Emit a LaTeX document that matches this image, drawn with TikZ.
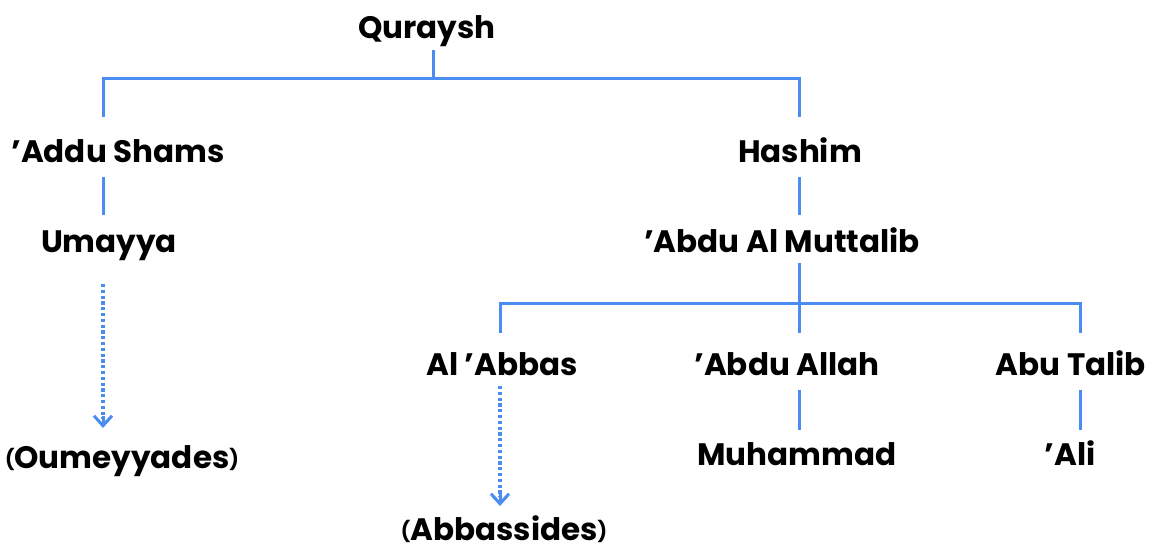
\documentclass[tikz,border=0pt]{standalone}
\usepackage{fontspec}
\setmainfont{Poppins}
\usetikzlibrary{arrows.meta,calc}
\definecolor{linkblue}{RGB}{74,140,240}
\newcommand{\smp}[1]{\raisebox{1.5pt}{\fontsize{20}{22}\selectfont #1}}
\begin{document}
\begin{tikzpicture}[x=1pt,y=-1pt,
  person/.style={font=\fontsize{31}{34}\selectfont\bfseries, anchor=base, inner sep=0pt},
  link/.style={draw=linkblue, line width=3pt},
  dotlink/.style={draw=linkblue, line width=3.6pt, dash pattern=on 3.2pt off 2.6pt},
  tiplink/.style={draw=linkblue, line width=3pt, -{Straight Barb[length=10pt,width=18pt]}}]
\useasboundingbox (0,0) rectangle (1152,549);
% names
\node[person] (quraysh) at (427,38) {Quraysh};
\node[person] (addu) at (118,162) {’Addu Shams};
\node[person] (hashim) at (800,162) {Hashim};
\node[person] (umayya) at (109,252) {Umayya};
\node[person] (muttalib) at (782,252) {’Abdu Al Muttalib};
\node[person] (abbas) at (502,375) {Al ’Abbas};
\node[person] (allah) at (787,375) {’Abdu Allah};
\node[person] (talib) at (1071,375) {Abu Talib};
\node[person] (muhammad) at (797,465) {Muhammad};
\node[person] (ali) at (1070,465) {’Ali};
\node[person] (oum) at (122,468) {\smp{(}Oumeyyades\smp{)}};
\node[person] (abb) at (504,540) {\smp{(}Abbassides\smp{)}};
% junction coordinates
\coordinate (q1) at (433,50);
\coordinate (q2) at (433,78);
\coordinate (qL) at (103,78);
\coordinate (qR) at (799,78);
\coordinate (aT) at (103,117);
\coordinate (hT) at (799,117);
\coordinate (a1) at (103,177);
\coordinate (uT) at (103,215);
\coordinate (h1) at (799,177);
\coordinate (mT) at (799,215);
\coordinate (m1) at (799,263);
\coordinate (m2) at (799,303);
\coordinate (mL) at (500,303);
\coordinate (mR) at (1080,303);
\coordinate (abT) at (500,333);
\coordinate (alT) at (799,333);
\coordinate (taT) at (1080,333);
\coordinate (al1) at (799,390);
\coordinate (muT) at (799,430);
\coordinate (ta1) at (1080,390);
\coordinate (aliT) at (1080,430);
\coordinate (u1) at (103,284);
\coordinate (oumT) at (103,428);
\coordinate (ab1) at (500,386);
\coordinate (abbT) at (500,506);
% connectors
\draw[link] (q1) -- (q2);
\draw[link] (aT) -- (qL) -- (qR) -- (hT);
\draw[link] (a1) -- (uT);
\draw[link] (h1) -- (mT);
\draw[link] (m1) -- (m2);
\draw[link] (abT) -- (mL) -- (mR) -- (taT);
\draw[link] (m2) -- (alT);
\draw[link] (al1) -- (muT);
\draw[link] (ta1) -- (aliT);
\draw[dotlink] (u1) -- ($(oumT)+(0,-9)$);
\draw[tiplink] ($(oumT)+(0,-12)$) -- (oumT);
\draw[dotlink] (ab1) -- ($(abbT)+(0,-9)$);
\draw[tiplink] ($(abbT)+(0,-12)$) -- (abbT);
\end{tikzpicture}
\end{document}
